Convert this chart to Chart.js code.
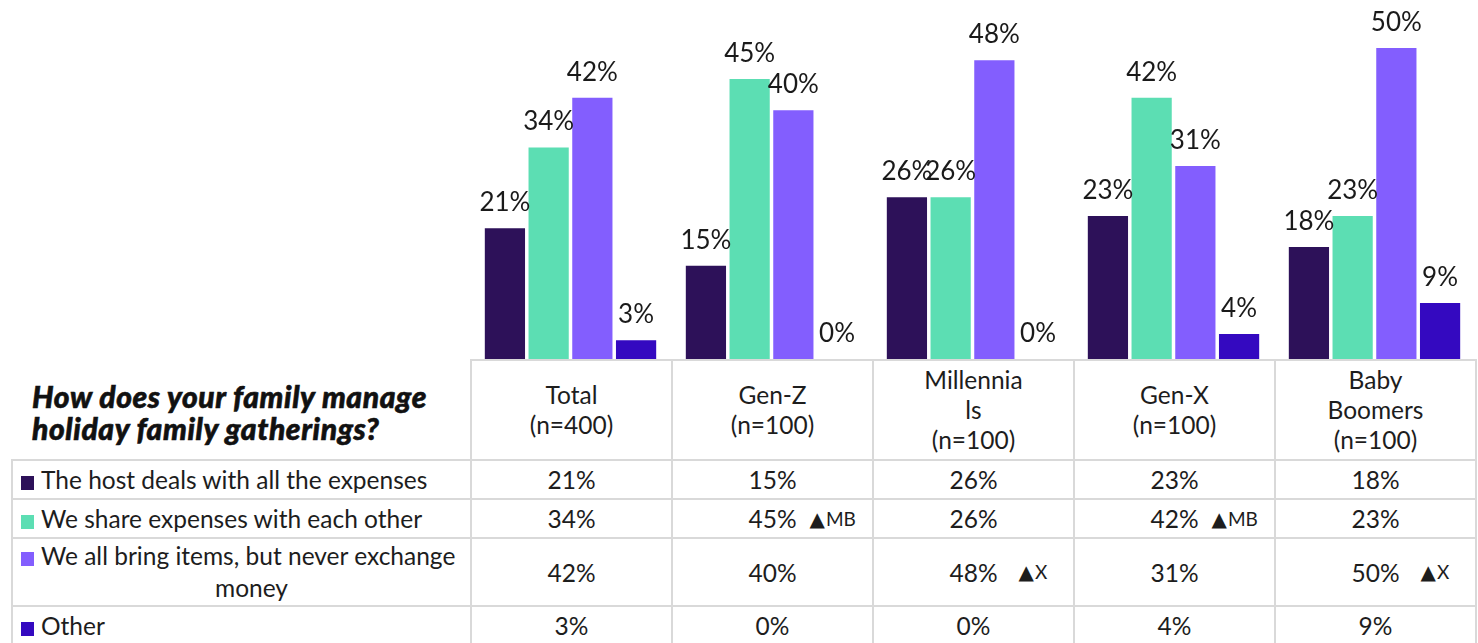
<!DOCTYPE html>
<html>
<head>
<meta charset="utf-8">
<script src="https://cdn.jsdelivr.net/npm/chart.js@4"></script>
<style>
  html, body { margin: 0; padding: 0; background: #fff; }
  body { width: 1478px; height: 643px; overflow: hidden; position: relative; font-family: Lato, sans-serif; color: #1d1d1d; }
  #wrap { position: absolute; left: 470px; top: 0; width: 1005px; height: 359px; }
  #tbl { position: absolute; left: 11px; top: 359px; border-collapse: collapse; table-layout: fixed; font-size: 24.5px; }
  #tbl td { border: 2px solid #d9d9d9; text-align: center; vertical-align: middle; padding: 0; position: relative; white-space: nowrap; }
  #tbl td.q { border-top: none; border-left: none; border-bottom: none; text-align: left; font-weight: 900; font-style: italic; font-size: 30px; letter-spacing: 0.6px; line-height: 32px; padding: 4px 0 0 20px; -webkit-text-stroke: 0.6px #111; color: #111; }
  #tbl td.hd { line-height: 30px; }
  #tbl td.lab { text-align: left; padding-left: 8px; line-height: 32px; }
  .sq { display: inline-block; width: 13px; height: 14px; margin-right: 7px; vertical-align: -1px; }
  .l2 { display: block; text-align: center; padding-left: 12px; }
  .mk { position: absolute; top: 50%; transform: translateY(-50%); font-size: 19px; }
  .tri { font-family: "DejaVu Sans", sans-serif; font-size: 20px; margin-right: 1px; }
</style>
</head>
<body>
<div id="wrap"><canvas id="barras"></canvas></div>
<table id="tbl"></table>
<script>
const categorias = ["Total", "Gen-Z", "Millennials", "Gen-X", "Baby Boomers"];
const cabeceras = ["Total<br>(n=400)", "Gen-Z<br>(n=100)", "Millennia<br>ls<br>(n=100)", "Gen-X<br>(n=100)", "Baby<br>Boomers<br>(n=100)"];
const pregunta = "How does your family manage<br>holiday family gatherings?";

const series = ["The host deals with all the expenses", "We share expenses with each other", "We all bring items, but never exchange|money", "Other"];
const anfitrion = [21, 15, 26, 23, 18];
const compartimos = [34, 45, 26, 42, 23];
const traemos = [42, 40, 48, 31, 50];
const otro = [3, 0, 0, 4, 9];
const colores = ["#2D1159", "#5CDEB3", "#835EFE", "#3409C0"];

// marcas de significancia en la tabla
const marcasCompartimos = ["", "MB", "", "MB", ""];
const marcasTraemos = ["", "", "X", "", "X"];

const valores = [anfitrion, compartimos, traemos, otro];
const marcas = [null, marcasCompartimos, marcasTraemos, null];

function cargaGraficoBarras() {
    const etiquetas = {
        id: "etiquetas",
        afterDatasetsDraw(chart) {
            const ctx = chart.ctx;
            ctx.save();
            ctx.font = "26px Lato";
            ctx.fillStyle = "#1a1a1a";
            ctx.textAlign = "center";
            ctx.textBaseline = "alphabetic";
            chart.data.datasets.forEach((ds, i) => {
                chart.getDatasetMeta(i).data.forEach((bar, j) => {
                    ctx.fillText(ds.data[j] + "%", bar.x, bar.y - 17);
                });
            });
            ctx.restore();
        }
    };

    const datos = {
        labels: categorias,
        datasets: valores.map((v, i) => ({
            label: series[i].replace("|", " "),
            backgroundColor: colores[i],
            data: v,
            categoryPercentage: 0.87,
            barPercentage: 0.92
        }))
    };

    const config = {
        type: "bar",
        data: datos,
        plugins: [etiquetas],
        options: {
            responsive: true,
            maintainAspectRatio: false,
            animation: false,
            layout: { padding: 0 },
            plugins: { legend: { display: false }, tooltip: { enabled: false } },
            scales: {
                x: { display: false },
                y: { display: false, min: 0, max: 57.7 }
            }
        }
    };

    new Chart(document.getElementById("barras"), config);
}

function cargaTabla() {
    let html = '<colgroup><col style="width:459px">' + categorias.map(() => '<col style="width:201px">').join("") + '</colgroup>';
    html += '<tr style="height:100px"><td class="q">' + pregunta + '</td>' +
        cabeceras.map(c => '<td class="hd">' + c + '</td>').join("") + '</tr>';
    const alturas = [39, 39, 68, 39];
    valores.forEach((v, i) => {
        const partes = series[i].split("|");
        html += '<tr style="height:' + alturas[i] + 'px"><td class="lab">' +
            '<span class="sq" style="background:' + colores[i] + '"></span>' + partes[0] +
            (partes[1] ? '<span class="l2">' + partes[1] + '</span>' : '') + '</td>';
        v.forEach((n, j) => {
            const m = marcas[i] && marcas[i][j];
            const off = m === "X" ? 45 : 37;
            html += '<td>' + n + '%' + (m ? '<span class="mk" style="left:calc(50% + ' + off + 'px)"><span class="tri">▲</span>' + m + '</span>' : '') + '</td>';
        });
        html += '</tr>';
    });
    document.getElementById("tbl").innerHTML = html;
}

cargaTabla();
cargaGraficoBarras();
</script>
</body>
</html>
